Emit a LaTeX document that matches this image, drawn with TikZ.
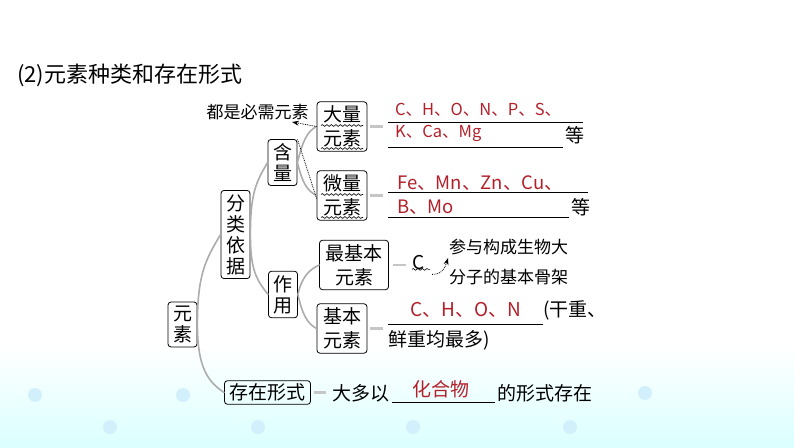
\documentclass[tikz,border=0pt]{standalone}
\usepackage{fontspec}
\setmainfont{Noto Sans CJK SC}
\usetikzlibrary{arrows.meta,calc,decorations.pathmorphing}
\definecolor{answerred}{HTML}{B2202A}

\tikzset{
  elembox/.style={draw, rounded corners=3pt, line width=0.8pt, align=center,
    inner xsep=6pt, inner ysep=4pt, font=\fontsize{19}{24}\selectfont},
  vbox/.style={elembox, inner xsep=5pt, font=\fontsize{19}{21}\selectfont},
  branch/.style={gray!65, line width=1.6pt, line cap=round},
  pointer/.style={gray!45, line width=2.4pt},
  answer/.style={text=answerred, inner sep=0pt, anchor=west},
  plain/.style={inner sep=0pt, anchor=west, font=\fontsize{19}{22}\selectfont},
  blank/.style={line width=0.7pt},
  wave/.style={decorate, decoration={snake, amplitude=0.9pt, segment length=4.5pt}, line width=0.6pt},
  scrawl/.style={inner sep=0pt, font=\fontsize{17}{30}\selectfont, align=left},
  hint/.style={densely dotted, line width=0.8pt},
}

\begin{document}
\begin{tikzpicture}[x=1pt, y=-1pt]
     \useasboundingbox (0,0) rectangle (794,447);

     % background
     \shade[top color=white, bottom color=cyan!14] (0,345) rectangle (794,447);
     \foreach \px/\py in {35/395, 110/427, 183/395, 258/427, 413/427, 570/427, 645/393}
       \fill[cyan!18] (\px,\py) circle (7);

     % title
     \node[plain, font=\fontsize{22}{24}\selectfont] (title) at (17,75) {(2)元素种类和存在形式};

     % tree boxes
     \node[vbox] (yuan) at (182.5,324.5) {元\\素};
     \node[vbox] (fenlei) at (235.5,234.5) {分\\类\\依\\据};
     \node[vbox] (hanliang) at (282.5,162.5) {含\\量};
     \node[vbox] (zuoyong) at (283,294.5) {作\\用};
     \node[elembox] (daliang) at (342,126.5) {大量\\元素};
     \node[elembox] (weiliang) at (342,195.5) {微量\\元素};
     \node[elembox] (zuijiben) at (354,265) {最基本\\元素};
     \node[elembox] (jiben) at (342,328.5) {基本\\元素};
     \node[elembox, inner ysep=3pt, inner xsep=5pt] (cunzai) at (267.5,392.5) {存在形式};

     % branches
     \draw[branch] (yuan.east) .. controls +(0,-50) and +(-15,25) .. (fenlei.west);
     \draw[branch] (yuan.east) .. controls +(0,45) and +(-15,-10) .. (cunzai.west);
     \draw[branch] (fenlei.east) .. controls +(0,-40) and +(-12,20) .. (hanliang.west);
     \draw[branch] (fenlei.east) .. controls +(0,35) and +(-12,-15) .. (zuoyong.west);
     \draw[branch] (hanliang.east) .. controls +(5,-20) and +(-10,5) .. (daliang.west);
     \draw[branch] (hanliang.east) .. controls +(5,20) and +(-10,-5) .. (weiliang.west);
     \draw[branch] (zuoyong.east) .. controls +(4,-18) and +(-10,5) .. (zuijiben.west);
     \draw[branch] (zuoyong.east) .. controls +(4,18) and +(-10,-5) .. (jiben.west);

     % wavy marks
     \foreach \b in {daliang, weiliang} {
       \draw[wave] ($(\b.center)+(-21,-1)$) -- ++(42,0);
       \draw[wave] ($(\b.center)+(-21,22)$) -- ++(42,0);
     }

     % note on both groups
     \node[scrawl] (must) at (257.5,112) {都是必需元素};
     \coordinate (musttip) at (292,122);
     \draw[hint, -{Stealth[length=7pt, width=5pt]}] (daliang.west) -- (musttip);
     \draw[hint] ([yshift=-3pt]weiliang.west) -- (hanliang.north east);

     % large elements
     \draw[pointer] (daliang.east) ++(3,0) -- ++(13,0);
     \node[answer, font=\fontsize{16.5}{20}\selectfont] (daA) at (395,110) {C、H、O、N、P、S、};
     \node[answer, font=\fontsize{16.5}{20}\selectfont] (daB) at (395,133) {K、Ca、Mg};
     \draw[blank] (388,122) -- (583,122);
     \draw[blank] (388,147) -- (563,147);
     \node[plain] (daDeng) at (565,135) {等};

     % trace elements
     \draw[pointer] (weiliang.east) ++(3,0) -- ++(13,0);
     \node[answer, font=\fontsize{18.5}{22}\selectfont] (weiA) at (397,183) {Fe、Mn、Zn、Cu、};
     \node[answer, font=\fontsize{18.5}{22}\selectfont] (weiB) at (397,207) {B、Mo};
     \draw[blank] (388,192) -- (588,192);
     \draw[blank] (388,217) -- (569,217);
     \node[plain] (weiDeng) at (571,207) {等};

     % most basic element
     \draw[pointer] (zuijiben.east) ++(4,0) -- ++(13,0);
     \node[plain] (carbon) at (412,263) {C};
     \draw[wave] ([yshift=1pt]carbon.south west) -- ++(18,0) coordinate (cwave);
     \node[scrawl, anchor=west] (skeleton) at (449,262) {参与构成生物大\\分子的基本骨架};
     \coordinate (skeltip) at (448,258);
     \draw[hint, -{Stealth[length=7pt, width=5pt]}]
       ([xshift=2pt, yshift=-5pt]cwave) .. controls +(10,0) and +(-3,10) .. (skeltip);

     % basic elements
     \draw[pointer] (jiben.east) ++(3,0) -- ++(13,0);
     \node[answer, font=\fontsize{19}{22}\selectfont] (jibenA) at (410,310) {C、H、O、N};
     \draw[blank] (388,324) -- (543,324);
     \node[plain] (ganzhong) at (543,310) {(干重、};
     \node[plain] (xianzhong) at (388,340) {鲜重均最多)};

     % form of existence
     \draw[pointer] (cunzai.east) ++(3,0) -- ++(12,0);
     \node[plain] (daduo) at (332,393) {大多以};
     \draw[blank] (392,402) -- (495,402);
     \node[answer, anchor=center, font=\fontsize{19}{22}\selectfont] (huahewu) at (441,389) {化合物};
     \node[plain] (xingshi) at (497,393) {的形式存在};

\end{tikzpicture}
\end{document}
